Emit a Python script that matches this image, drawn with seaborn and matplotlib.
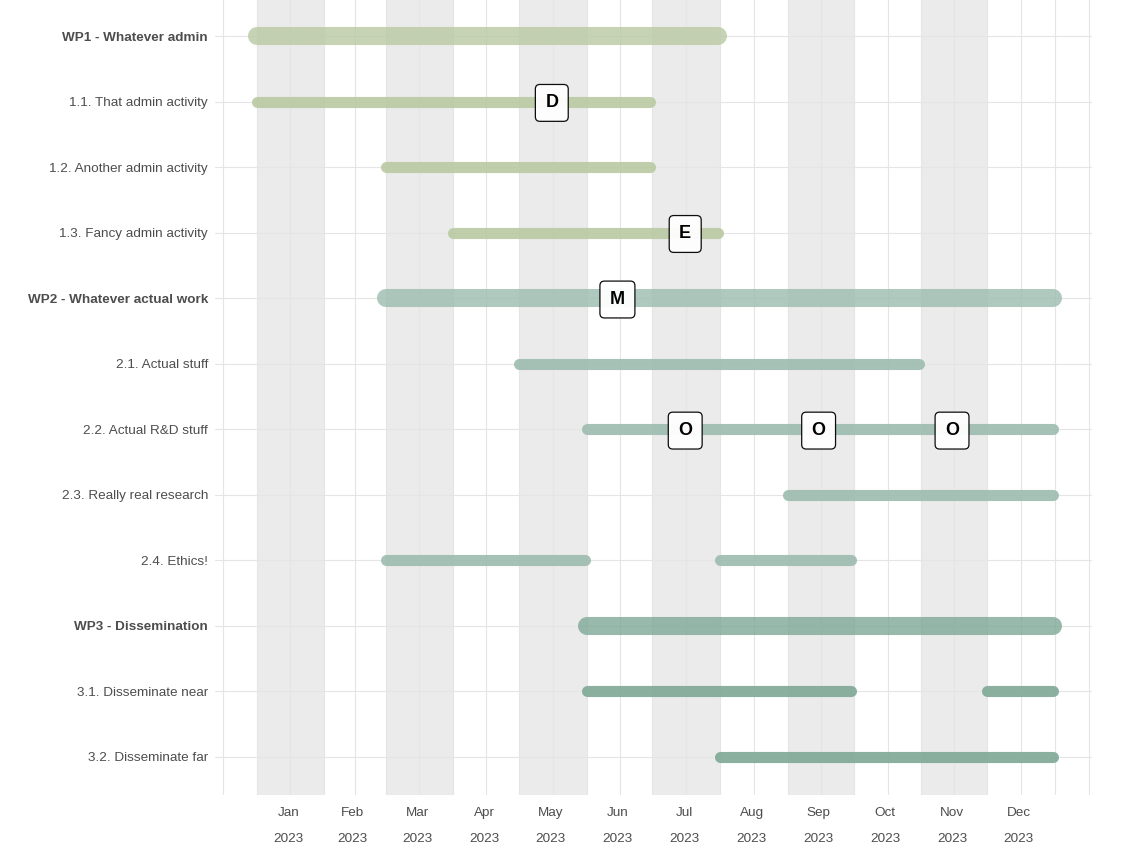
import pandas as pd
import numpy as np
import matplotlib
matplotlib.use("Agg")
import matplotlib.pyplot as plt
import matplotlib.dates as mdates
import matplotlib.transforms as mtransforms
import seaborn as sns

# ----------------------------
# Chart data
# ----------------------------
rows = ["WP1 - Whatever admin", "1.1. That admin activity", "1.2. Another admin activity",
        "1.3. Fancy admin activity", "WP2 - Whatever actual work", "2.1. Actual stuff",
        "2.2. Actual R&D stuff", "2.3. Really real research", "2.4. Ethics!",
        "WP3 - Dissemination", "3.1. Disseminate near", "3.2. Disseminate far"]
row_is_wp = [True, False, False, False, True, False, False, False, False, True, False, False]
row_wp = ["WP1", "WP1", "WP1", "WP1", "WP2", "WP2", "WP2", "WP2", "WP2", "WP3", "WP3", "WP3"]

# one entry per bar segment (2.4 and 3.1 have two segments)
seg_row = ["WP1 - Whatever admin", "1.1. That admin activity", "1.2. Another admin activity",
           "1.3. Fancy admin activity", "WP2 - Whatever actual work", "2.1. Actual stuff",
           "2.2. Actual R&D stuff", "2.3. Really real research", "2.4. Ethics!", "2.4. Ethics!",
           "WP3 - Dissemination", "3.1. Disseminate near", "3.1. Disseminate near",
           "3.2. Disseminate far"]
seg_start = ["2023-01-01", "2023-01-01", "2023-03-01", "2023-04-01", "2023-03-01", "2023-05-01",
             "2023-06-01", "2023-09-01", "2023-03-01", "2023-08-01", "2023-06-01", "2023-06-01",
             "2023-12-01", "2023-08-01"]
seg_end = ["2023-07-31", "2023-06-30", "2023-06-30", "2023-07-31", "2023-12-31", "2023-10-31",
           "2023-12-31", "2023-12-31", "2023-05-31", "2023-09-30", "2023-12-31", "2023-09-30",
           "2023-12-31", "2023-12-31"]

# spot labels
spot_row = ["1.1. That admin activity", "1.3. Fancy admin activity", "WP2 - Whatever actual work",
            "2.2. Actual R&D stuff", "2.2. Actual R&D stuff", "2.2. Actual R&D stuff"]
spot_label = ["D", "E", "M", "O", "O", "O"]
spot_date = ["2023-05-16", "2023-07-16", "2023-06-15", "2023-07-16", "2023-09-15", "2023-11-15"]

wp_colours = {"WP1": "#b9c9a2", "WP2": "#9dbcb0", "WP3": "#7ea896"}

# ----------------------------
# Build long table for seaborn
# ----------------------------
row_idx = {name: i for i, name in enumerate(rows)}
recs = []
for k, (r, s, e) in enumerate(zip(seg_row, seg_start, seg_end)):
    i = row_idx[r]
    for d in (s, e):
        recs.append({"seg": k, "date": pd.Timestamp(d), "y": i,
                     "wp": row_wp[i], "is_wp": row_is_wp[i]})
df = pd.DataFrame(recs)

sns.set_theme(style="whitegrid")
plt.rcParams["font.family"] = ["Liberation Sans", "DejaVu Sans"]

fig = plt.figure(figsize=(11.4, 8.58), dpi=100)
ax = fig.add_axes([215 / 1140, 63 / 858, (1092 - 215) / 1140, 795 / 858])

x_min = pd.Timestamp("2022-12-13")
x_max = pd.Timestamp("2024-01-18")

# alternating month shading
months = pd.date_range("2023-01-01", "2024-01-01", freq="MS")
for j in range(0, 12, 2):
    ax.axvspan(months[j], months[j + 1], color="#ebebeb", zorder=0.5, lw=0)

# bars: work packages thick, activities thinner
sns.lineplot(data=df[df["is_wp"]], x="date", y="y", units="seg", estimator=None,
             hue="wp", palette=wp_colours, linewidth=13, alpha=0.8,
             solid_capstyle="round", legend=False, ax=ax, zorder=3)
sns.lineplot(data=df[~df["is_wp"]], x="date", y="y", units="seg", estimator=None,
             hue="wp", palette=wp_colours, linewidth=8, alpha=0.9,
             solid_capstyle="round", legend=False, ax=ax, zorder=3)

# spot labels
for r, lab, d in zip(spot_row, spot_label, spot_date):
    ax.text(mdates.date2num(pd.Timestamp(d)), row_idx[r] + 0.02, lab,
            ha="center", va="center", fontsize=13, fontweight="bold", color="black",
            zorder=5,
            bbox=dict(boxstyle="round,pad=0.55,rounding_size=0.25",
                      fc="white", ec="black", lw=0.9, alpha=0.95))

# axes
ax.set_xlim(x_min, x_max)
ax.set_ylim(len(rows) - 1 + 0.58, -0.55)
ax.set_yticks(range(len(rows)))
ax.set_yticklabels(rows)
for lbl, wp in zip(ax.get_yticklabels(), row_is_wp):
    if wp:
        lbl.set_fontweight("bold")

# major ticks in the middle of each month, minor gridlines on month starts
mstarts = pd.date_range("2022-12-01", "2024-02-01", freq="MS")
mid = [a + (b - a) / 2 for a, b in zip(mstarts[:-1], mstarts[1:])]
ax.set_xticks(mid)
ax.set_xticklabels([])
ax.set_xticks(pd.date_range("2023-01-01", "2024-01-01", freq="MS"), minor=True)

# month / year labels on two fixed lines
trans = mtransforms.blended_transform_factory(ax.transData, ax.transAxes)
for m in mid:
    if m.year != 2023:
        continue
    ax.text(m - pd.Timedelta(days=1), -18 / 795, m.strftime("%b"), transform=trans,
            ha="center", va="center", fontsize=9.7, color="#4d4d4d")
    ax.text(m - pd.Timedelta(days=1), -44 / 795, m.strftime("%Y"), transform=trans,
            ha="center", va="center", fontsize=9.7, color="#4d4d4d")

ax.tick_params(axis="both", which="both", length=0, labelsize=9.7, colors="#4d4d4d")
ax.tick_params(axis="y", pad=5)

ax.grid(True, which="major", color="#e5e5e5", lw=0.8)
ax.grid(True, which="minor", axis="x", color="#e5e5e5", lw=0.8)
ax.set_axisbelow(True)
ax.set_xlabel("")
ax.set_ylabel("")
for sp in ax.spines.values():
    sp.set_visible(False)

fig.savefig("out.png", dpi=100, facecolor="white")
